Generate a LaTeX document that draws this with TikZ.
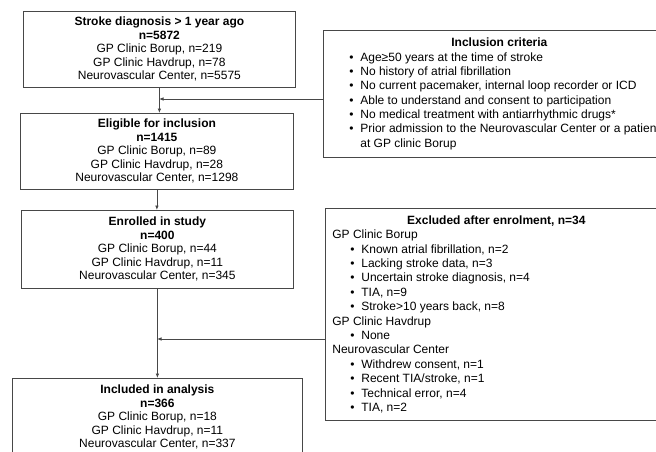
\documentclass[tikz,border=0pt]{standalone}
\usepackage{fontspec}
\setmainfont{Liberation Sans}
\usetikzlibrary{arrows.meta}
\newcommand\bul[1]{\par\hspace*{18pt}\makebox[11pt][l]{\textbullet}\mbox{#1}}
\begin{document}
\begin{tikzpicture}[x=1pt,y=-1pt,
  box/.style={draw=black!72, line width=0.8pt, inner sep=0pt, anchor=north west},
  mainbox/.style={box, align=center, font=\fontsize{12}{13.5}\selectfont},
  conn/.style={draw=black!72, line width=0.8pt, -{Latex[length=4.5pt,width=3.6pt]}}]
\useasboundingbox (0,0) rectangle (656,452);
\clip (0,0) rectangle (656,452);
\fill[white] (0,0) rectangle (656,452);

\node[mainbox, minimum width=272pt, minimum height=76pt] (b1) at (23,11)
  {\textbf{Stroke diagnosis > 1 year ago}\\\textbf{n=5872}\\GP Clinic Borup, n=219\\GP Clinic Havdrup, n=78\\Neurovascular Center, n=5575};
\node[mainbox, minimum width=273pt, minimum height=76pt] (b2) at (20,113)
  {\textbf{Eligible for inclusion}\\\textbf{n=1415}\\GP Clinic Borup, n=89\\GP Clinic Havdrup, n=28\\Neurovascular Center, n=1298};
\node[mainbox, minimum width=272pt, minimum height=78pt] (b3) at (21,210)
  {\textbf{Enrolled in study}\\\textbf{n=400}\\GP Clinic Borup, n=44\\GP Clinic Havdrup, n=11\\Neurovascular Center, n=345};
\node[mainbox, minimum width=290pt, minimum height=78pt] (b4) at (12,378)
  {\textbf{Included in analysis}\\\textbf{n=366}\\GP Clinic Borup, n=18\\GP Clinic Havdrup, n=11\\Neurovascular Center, n=337};

\node[box, minimum width=352pt, minimum height=127pt] (incl) at (323,30)
  {\begin{minipage}{336pt}\fontsize{12}{14.3}\selectfont
   \centering\textbf{Inclusion criteria}\par\raggedright
   \bul{Age≥50 years at the time of stroke}
   \bul{No history of atrial fibrillation}
   \bul{No current pacemaker, internal loop recorder or ICD}
   \bul{Able to understand and consent to participation}
   \bul{No medical treatment with antiarrhythmic drugs*}
   \bul{Prior admission to the Neurovascular Center or a patient}
   \par\hspace*{29pt}at GP clinic Borup
   \end{minipage}};

\node[box, minimum width=342pt, minimum height=212pt] (excl) at (325,208)
  {\begin{minipage}{328pt}\fontsize{12}{14.4}\selectfont
   \centering\textbf{Excluded after enrolment, n=34}\par\raggedright
   GP Clinic Borup
   \bul{Known atrial fibrillation, n=2}
   \bul{Lacking stroke data, n=3}
   \bul{Uncertain stroke diagnosis, n=4}
   \bul{TIA, n=9}
   \bul{Stroke>10 years back, n=8}
   \par GP Clinic Havdrup
   \bul{None}
   \par Neurovascular Center
   \bul{Withdrew consent, n=1}
   \bul{Recent TIA/stroke, n=1}
   \bul{Technical error, n=4}
   \bul{TIA, n=2}
   \end{minipage}};

\coordinate (m1) at (159,99);
\coordinate (m2) at (157,339);
\draw[conn] (b1.south) -- (b1.south |- b2.north);
\draw[conn] (incl.west |- m1) -- (m1);
\draw[conn] (b2.south) -- (b2.south |- b3.north);
\draw[conn] (b3.south) -- (b3.south |- b4.north);
\draw[conn] (excl.west |- m2) -- (m2);
\end{tikzpicture}
\end{document}
